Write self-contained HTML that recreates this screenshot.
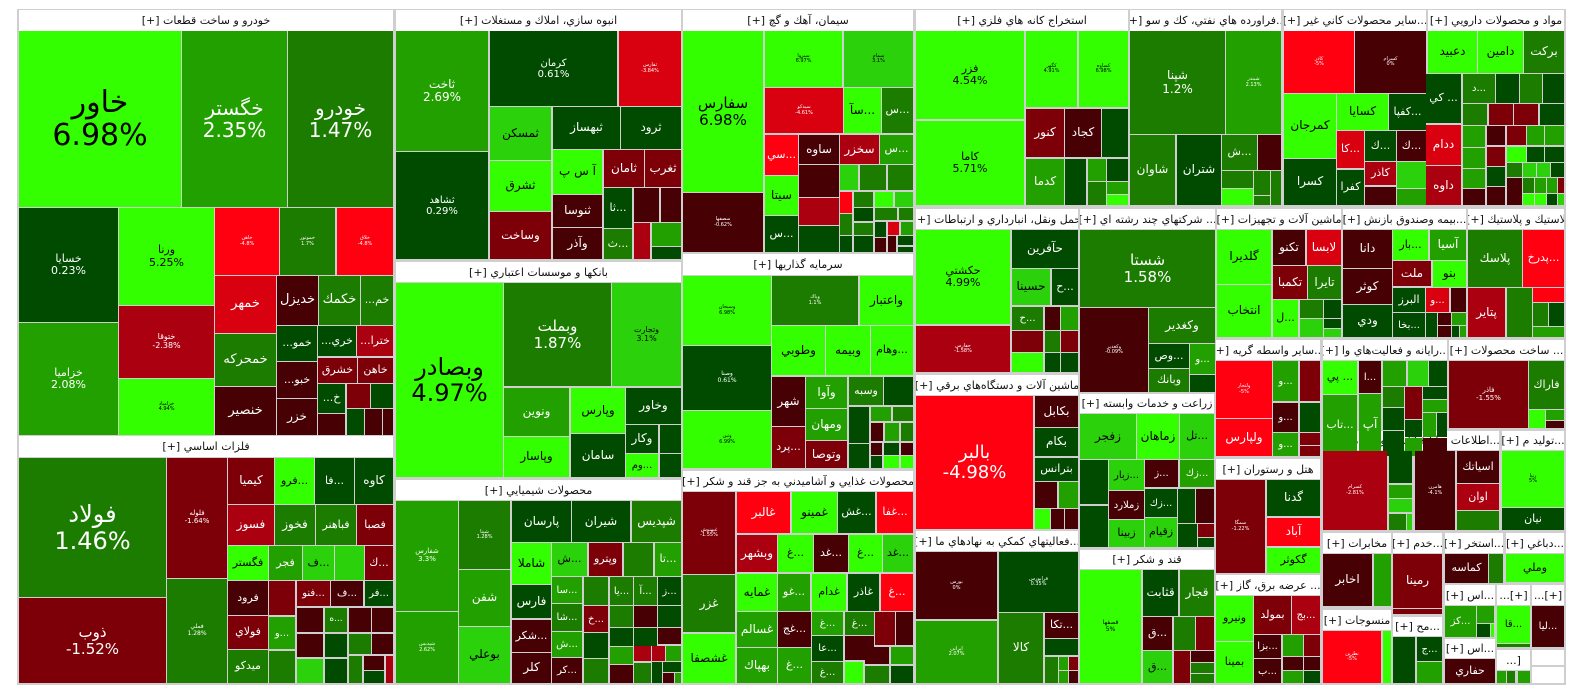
<!DOCTYPE html>
<html><head><meta charset="utf-8">
<style>
html,body{margin:0;padding:0;background:#fff;width:1584px;height:698px;overflow:hidden}
#m{position:absolute;left:17px;top:9px;width:1549px;height:676px;background:#cfcfcf}
.t{position:absolute;display:flex;flex-direction:column;align-items:center;justify-content:center;text-align:center;overflow:hidden;font-family:"DejaVu Sans","Liberation Sans",sans-serif;line-height:1.1;direction:rtl}
.t span{display:block;white-space:nowrap}
.t .p{direction:ltr;unicode-bidi:embed}
.h{position:absolute;background:#fff;display:flex;align-items:center;justify-content:center;font-family:"DejaVu Sans","Liberation Sans",sans-serif;font-size:11px;color:#111;direction:rtl;white-space:nowrap;overflow:hidden}
</style></head><body>
<div id="m"></div>
<div id="root"></div>
<script>
var C={A:'#33ff00',B:'#2bd10a',C:'#22a000',D:'#1b7c00',E:'#004b00',R1:'#ff0011',R2:'#d9000f',R3:'#ab0010',R4:'#7d0008',R5:'#470004'};
var H=[
[19,10,393,31,'خودرو و ساخت قطعات [+]'],
[19,436,393,457,'فلزات اساسي [+]'],
[396,10,681,31,'انبوه سازي، املاك و مستغلات [+]'],
[396,262,681,282,'بانكها و موسسات اعتباري [+]'],
[396,480,681,500,'محصولات شيميايي [+]'],
[683,10,913,31,'سيمان، آهك و گچ [+]'],
[683,254,913,275,'سرمايه گذاريها [+]'],
[683,471,913,491,'محصولات غذايي و آشاميدني به جز قند و شكر [+]'],
[916,10,1128,31,'استخراج كانه هاي فلزي [+]'],
[1130,10,1281,31,'...فراورده هاي نفتي، كك و سو [+]'],
[1284,10,1426,31,'...ساير محصولات كاني غير [+]'],
[1428,10,1564,31,'مواد و محصولات دارويي [+]'],
[916,209,1078,229,'حمل ونقل، انبارداري و ارتباطات [+]'],
[1080,209,1215,229,'... شركتهاي چند رشته اي [+]'],
[1217,209,1341,229,'ماشين آلات و تجهيزات [+]'],
[1343,209,1466,229,'...بيمه وصندوق بازنش [+]'],
[1468,209,1564,229,'لاستيك و پلاستيك [+]'],
[916,375,1078,395,'ماشين آلات و دستگاه‌هاي برقي [+]'],
[916,531,1078,551,'...فعاليتهاي كمكي به نهادهاي ما [+]'],
[1080,394,1214,413,'زراعت و خدمات وابسته [+]'],
[1080,550,1214,569,'قند و شكر [+]'],
[1216,340,1320,360,'...ساير واسطه گريه [+]'],
[1323,340,1447,360,'...رايانه و فعاليت‌هاي وا [+]'],
[1449,340,1564,360,'... ساخت محصولات [+]'],
[1216,459,1320,479,'هتل و رستوران [+]'],
[1216,575,1320,595,'... عرضه برق، گاز [+]'],
[1323,431,1412,450,'كاشي و سراميك [+]'],
[1415,431,1499,450,'...اطلاعات و ا [+]'],
[1502,431,1564,450,'...توليد م [+]'],
[1323,533,1391,553,'مخابرات [+]'],
[1323,610,1391,630,'منسوجات [+]'],
[1393,533,1442,553,'...خدم [+]'],
[1393,617,1442,636,'...مح [+]'],
[1445,533,1503,553,'...استخر [+]'],
[1506,533,1564,553,'...دباغي [+]'],
[1445,585,1495,605,'...اس [+]'],
[1445,639,1495,658,'...اس [+]'],
[1497,585,1530,605,'[+]...'],
[1532,585,1564,605,'[+]...'],
[1497,650,1530,670,'[...'],
[1532,650,1564,665,''],
[1532,667,1564,683,'']
];
var T=[
[19,31,181,207,'A','خاور\n6.98%',30],
[182,31,287,207,'C','خگستر\n2.35%',20],
[288,31,393,207,'D','خودرو\n1.47%',20],
[19,208,118,322,'E','خسايا\n0.23%',11],
[19,323,118,435,'C','خزاميا\n2.08%',11],
[119,208,214,305,'A','ورنا\n5.25%',11],
[119,306,214,378,'R3','ختوقا\n-2.38%',8],
[119,379,214,435,'A','خزامياد\n4.94%',5],
[215,208,279,275,'R1','خاهن\n-4.8%',5],
[280,208,335,275,'D','خموتور\n1.7%',5],
[337,208,393,275,'R1','خلاق\n-4.8%',5],
[215,276,276,333,'R2','خمهر',13],
[215,334,276,386,'D','خمحركه',13],
[215,387,276,435,'R5','خنصير',13],
[277,276,318,325,'R5','خديزل',13],
[319,276,360,325,'D','خكمك',13],
[361,276,393,325,'D','خم...',11],
[277,326,317,361,'E','خمو...',11],
[318,326,356,356,'E','خري...',11],
[357,326,393,356,'R3','خترا...',11],
[277,362,317,398,'R5','خبو...',11],
[318,358,357,383,'R4','خشرق',11],
[358,358,393,383,'R4','خاهن',11],
[277,399,317,435,'R5','خزر',12],
[318,384,345,413,'E','خ...',11],
[347,384,370,408,'R4','',0],[371,384,393,408,'E','',0],
[318,414,345,435,'R5','',0],[347,409,364,435,'E','',0],[365,409,382,435,'R5','',0],[383,409,393,435,'R5','',0],
[19,458,166,597,'D','فولاد\n1.46%',24],
[19,598,166,683,'R4','ذوب\n-1.52%',15],
[167,458,227,578,'R4','فلوله\n-1.64%',7],
[167,579,227,683,'D','فملي\n1.28%',6],
[228,458,274,504,'R4','كيميا',12],
[275,458,314,504,'A','...فرو',11],
[315,458,354,504,'E','...فا',11],
[355,458,393,504,'E','كاوه',12],
[228,505,274,545,'R3','فسوز',12],
[275,505,315,545,'D','فخوز',12],
[316,505,356,545,'D','فباهنر',11],
[357,505,393,545,'R4','فصبا',11],
[228,546,268,580,'A','فگستر',11],
[269,546,302,580,'C','فجر',11],
[303,546,334,580,'B','...ف',11],
[335,546,364,580,'B','',0],
[365,546,393,580,'R4','...ك',11],
[228,581,268,615,'R5','فرود',11],
[269,581,295,615,'R4','',0],
[297,581,330,606,'R4','...فنو',10],
[331,581,363,606,'R5','...ف',10],
[365,581,393,606,'E','...فر',10],
[228,616,268,649,'R4','فولاي',11],
[269,617,295,649,'C','...و',10],
[228,650,268,683,'D','ميدكو',11],
[269,651,295,683,'D','',0],
[297,608,323,632,'R5','',0],[325,608,347,632,'D','...ه',9],[349,608,371,632,'R5','',0],[372,608,393,632,'R5','',0],
[297,634,323,657,'R5','',0],[325,634,347,657,'E','',0],[349,634,371,654,'D','',0],[372,634,393,654,'R5','',0],
[297,659,323,683,'B','',0],[325,659,347,683,'E','',0],[349,656,362,683,'D','',0],[364,656,384,670,'R5','',0],[364,671,384,683,'E','',0],[386,656,393,683,'R3','',0],
[396,31,488,151,'C','ثاخت\n2.69%',12],
[396,152,488,259,'E','ثشاهد\n0.29%',10],
[490,31,617,106,'E','كرمان\n0.61%',10],
[619,31,681,106,'R2','ثفارس\n-3.84%',5],
[490,107,551,160,'B','ثمسكن',12],
[490,161,551,211,'A','ثشرق',12],
[490,212,551,259,'R4','وساخت',12],
[553,107,620,149,'E','ثبهساز',12],
[621,107,681,149,'E','ثرود',12],
[553,150,602,194,'A','آ س پ',12],
[604,150,644,187,'R4','ثامان',12],
[645,150,681,187,'R4','ثغرب',12],
[553,195,602,227,'R5','ثنوسا',12],
[553,228,602,259,'R5','وآذر',12],
[604,188,632,228,'E','...ثا',11],
[604,229,632,259,'D','...ث',11],
[634,188,659,222,'R5','',0],[661,188,681,222,'R5','',0],
[634,223,650,259,'R3','',0],[652,223,681,246,'C','',0],[652,247,681,259,'E','',0],
[396,283,503,477,'A','وبصادر\n4.97%',24],
[504,283,611,386,'D','وبملت\n1.87%',15],
[612,283,681,386,'B','وتجارت\n3.1%',8],
[504,388,569,436,'C','ونوين',12],
[571,388,625,433,'A','وپارس',12],
[626,388,681,424,'E','وخاور',12],
[504,437,569,477,'A','وپاسار',12],
[571,434,625,477,'E','سامان',12],
[626,425,658,453,'E','وكار',12],
[660,425,681,453,'E','',0],
[626,454,658,477,'A','...وم',10],
[660,454,681,477,'E','',0],
[396,501,458,611,'C','شفارس\n3.3%',7],
[396,612,458,683,'C','شپديس\n2.62%',5],
[459,501,510,569,'D','شپنا\n1.28%',5],
[459,570,510,626,'C','شفن',12],
[459,627,510,683,'B','بوعلي',12],
[512,501,571,542,'E','پارسان',12],
[572,501,630,542,'E','شيران',12],
[632,501,681,542,'D','شپديس',12],
[512,543,551,584,'A','شاملا',12],
[552,543,587,576,'B','...ش',11],
[589,543,622,576,'R4','وپترو',11],
[624,543,653,576,'D','',0],
[655,543,681,576,'C','...تا',11],
[512,585,551,618,'E','فارس',12],
[512,620,551,652,'R5','...شكر',11],
[512,653,551,683,'R5','كلر',12],
[552,577,582,603,'C','...سا',10],[552,604,582,631,'D','...شا',10],[552,632,582,657,'C','...ش',10],[552,658,582,683,'R5','...كر',10],
[584,577,608,605,'D','',0],[584,606,608,632,'R4','...خ',10],[584,633,608,658,'E','',0],[584,659,608,683,'D','',0],
[610,577,633,605,'D','...يا',10],[634,577,657,605,'D','...آ',10],[658,577,681,605,'E','...ز',10],
[610,606,633,627,'D','',0],[634,606,657,627,'R5','',0],[658,606,681,627,'E','',0],
[610,628,633,646,'E','',0],[634,628,657,646,'E','',0],[658,628,681,644,'R5','',0],
[610,647,633,664,'C','',0],[634,646,651,661,'R3','',0],[652,646,665,661,'R3','',0],[666,646,681,661,'C','',0],
[610,665,633,683,'R5','',0],[634,663,651,683,'D','',0],[652,662,662,683,'E','',0],[663,662,681,672,'E','',0],[663,673,674,683,'R5','',0],[675,673,681,683,'C','',0],
[683,31,763,192,'A','سفارس\n6.98%',15],
[683,193,763,252,'R5','سصفها\n-0.62%',5],
[765,31,842,87,'A','سبزوا\n6.97%',5],
[844,31,913,87,'B','سمام\n3.1%',5],
[765,88,843,133,'R2','سيدكو\n-4.61%',5],
[844,88,881,133,'A','...سآ',12],
[882,88,913,133,'D','...س',11],
[765,135,798,175,'R1','...سي',11],
[799,135,839,164,'R5','ساوه',12],
[840,135,879,164,'R3','سخزر',12],
[880,135,913,164,'C','...س',11],
[765,176,798,215,'A','سيتا',12],
[765,216,798,252,'E','...س',11],
[799,165,839,197,'R5','',0],
[799,198,839,225,'R3','',0],
[799,226,839,252,'E','',0],
[840,165,858,190,'B','',0],[860,165,886,190,'D','',0],[888,165,913,190,'D','',0],
[840,192,852,213,'R1','',0],[854,192,873,207,'D','',0],[875,192,893,207,'A','',0],[895,192,913,207,'B','',0],
[840,214,852,235,'D','',0],[854,208,873,221,'E','',0],[875,208,897,220,'D','',0],[899,208,913,220,'D','',0],
[854,223,873,235,'D','',0],[875,222,886,237,'E','',0],[888,222,899,235,'R2','',0],[901,222,913,235,'C','',0],
[840,236,852,252,'E','',0],[854,236,873,252,'E','',0],[875,238,886,252,'R5','',0],[888,236,896,252,'R5','',0],[898,236,913,245,'E','',0],[898,247,913,252,'E','',0],
[683,276,771,345,'A','وسبحان\n6.98%',5],
[683,346,771,410,'E','وصنا\n0.61%',6],
[683,411,771,468,'A','وتين\n6.99%',5],
[772,276,858,325,'D','وپاك\n1.1%',5],
[860,276,913,325,'A','واعتبار',12],
[772,326,825,375,'A','وطوبي',12],
[826,326,870,375,'A','وبيمه',12],
[871,326,913,375,'A','...وهام',11],
[772,377,805,426,'R5','شهر',12],
[772,427,805,468,'R4','...پرد',11],
[806,377,847,408,'C','وآوا',12],
[806,409,847,440,'C','ومهان',12],
[806,441,847,468,'R4','وتوصا',12],
[849,377,883,405,'D','وسبه',11],
[884,377,913,405,'E','',0],
[849,407,869,443,'E','',0],[871,407,891,421,'C','',0],[893,407,913,421,'D','',0],
[871,423,883,441,'R5','',0],[885,423,899,441,'C','',0],[901,423,913,441,'D','',0],
[849,444,869,468,'E','',0],[871,443,882,455,'R5','',0],[884,443,899,455,'E','',0],[901,443,913,455,'R5','',0],[871,456,882,468,'E','',0],[884,456,899,468,'A','',0],[901,456,913,468,'A','',0],
[683,492,735,574,'R4','غبهنوش\n-1.55%',5],
[683,575,735,632,'D','غزر',12],
[683,634,735,683,'A','غشصفا',12],
[737,492,790,533,'R1','غالبر',12],
[792,492,837,533,'A','غمينو',12],
[838,492,875,533,'E','...غش',11],
[877,492,913,533,'R1','...غفا',11],
[737,535,777,572,'R3','وبشهر',12],
[778,535,813,572,'A','...غ',11],
[814,535,848,572,'R5','...غد',11],
[849,535,882,572,'A','...غ',11],
[883,535,913,572,'B','...غد',11],
[737,574,777,611,'A','غمايه',12],
[778,574,810,611,'C','...غو',11],
[812,574,846,611,'A','غدام',11],
[848,574,879,611,'E','غاذر',11],
[881,574,913,611,'R1','...غ',11],
[737,612,777,647,'C','غسالم',12],
[778,612,811,647,'R5','...غج',11],
[812,612,843,635,'C','...غ',10],
[845,612,874,635,'D','...غ',10],
[875,612,895,645,'R4','',0],[896,612,913,645,'R5','',0],
[737,648,777,683,'C','بهپاك',12],
[778,648,811,683,'C','...غ',11],
[812,636,843,661,'E','...عا',10],
[812,662,843,683,'D','...غ',10],
[845,636,874,660,'R5','',0],
[845,662,863,683,'A','',0],[865,647,889,664,'R5','',0],[891,647,913,664,'C','',0],[865,666,889,683,'D','',0],[891,666,913,683,'E','',0],
[916,31,1024,119,'A','فزر\n4.54%',11],
[916,121,1024,205,'A','كاما\n5.71%',11],
[1026,31,1077,107,'A','كگهر\n4.91%',5],
[1079,31,1128,107,'A','كساوه\n6.98%',5],
[1026,109,1064,157,'R4','كنور',12],
[1065,109,1101,157,'R5','كجاد',12],
[1102,109,1128,157,'E','',0],
[1026,159,1064,205,'C','كدما',12],
[1065,159,1086,205,'E','',0],
[1088,159,1106,181,'C','',0],[1107,159,1128,181,'E','',0],[1088,182,1106,205,'D','',0],[1107,182,1128,194,'C','',0],[1107,195,1128,205,'A','',0],
[1130,31,1225,134,'D','شپنا\n1.2%',12],
[1226,31,1281,134,'C','شبندر\n2.13%',5],
[1130,135,1175,205,'D','شاوان',12],
[1177,135,1221,205,'E','شتران',12],
[1222,135,1257,170,'D','...ش',11],
[1258,135,1281,170,'R5','',0],
[1222,171,1253,188,'D','',0],[1222,189,1253,205,'A','',0],[1254,171,1270,195,'D','',0],[1271,171,1281,205,'D','',0],[1254,196,1270,205,'D','',0],
[1284,31,1354,93,'R1','كاذر\n-5%',5],
[1355,31,1426,93,'R5','كسرام\n0%',5],
[1284,94,1336,158,'A','كمرجان',12],
[1284,159,1336,205,'E','كسرا',12],
[1337,94,1388,130,'A','كسايا',12],
[1389,94,1426,130,'E','...كفپا',11],
[1337,131,1364,168,'R2','...كا',11],
[1365,131,1396,161,'E','...ك',11],
[1397,131,1426,161,'R5','...ك',11],
[1337,170,1364,205,'E','كفرا',11],
[1365,162,1396,185,'R3','كاذر',11],
[1397,162,1426,188,'B','',0],[1365,187,1396,205,'R5','',0],[1397,189,1426,205,'C','',0],
[1428,31,1477,73,'A','دعبيد',12],
[1478,31,1523,73,'A','دامين',12],
[1524,31,1564,73,'D','بركت',12],
[1426,74,1461,123,'E','... كي',11],
[1426,125,1461,165,'R2','ددام',12],
[1426,166,1461,205,'R3','داوه',12],
[1463,74,1495,103,'D','...د',10],[1496,74,1519,103,'E','',0],[1520,74,1542,103,'D','',0],[1543,74,1564,103,'E','',0],
[1463,104,1487,125,'D','',0],[1489,104,1513,125,'R4','',0],[1514,104,1538,125,'R4','',0],[1540,104,1564,125,'E','',0],
[1463,126,1485,147,'C','',0],[1487,126,1505,145,'R5','',0],[1507,126,1526,145,'R4','',0],[1527,126,1544,145,'C','',0],[1545,126,1564,145,'C','',0],
[1463,148,1485,168,'C','',0],[1487,147,1505,166,'R4','',0],[1507,147,1526,162,'A','',0],[1527,147,1544,162,'E','',0],[1545,147,1564,162,'E','',0],
[1463,169,1485,188,'C','',0],[1487,167,1505,186,'E','',0],[1507,163,1522,177,'D','',0],[1523,163,1536,177,'B','',0],[1537,163,1550,177,'B','',0],[1551,163,1564,177,'E','',0],
[1463,189,1485,205,'R5','',0],[1487,187,1505,205,'R5','',0],[1507,178,1522,205,'R5','',0],[1523,178,1534,193,'D','',0],[1535,178,1546,193,'C','',0],[1547,178,1557,193,'C','',0],[1558,178,1564,193,'R4','',0],
[1523,194,1534,205,'A','',0],[1535,194,1546,205,'A','',0],[1547,194,1557,205,'E','',0],[1558,194,1564,205,'B','',0],
[916,230,1010,324,'A','حكشتي\n4.99%',11],
[916,326,1010,372,'R3','حفارس\n-1.58%',5],
[1012,230,1078,268,'E','حآفرين',12],
[1012,269,1050,305,'B','حسينا',12],
[1052,269,1078,305,'E','...ح',11],
[1012,307,1043,330,'D','...ح',10],
[1045,307,1060,330,'R5','',0],[1061,307,1078,330,'C','',0],
[1012,331,1043,352,'R4','',0],[1012,353,1043,372,'A','',0],
[1045,331,1060,352,'D','',0],[1061,331,1078,352,'R4','',0],[1045,353,1060,372,'E','',0],[1061,353,1078,372,'E','',0],
[1080,230,1215,307,'D','شستا\n1.58%',15],
[1080,308,1148,392,'R5','وكغدير\n-0.09%',5],
[1149,308,1215,343,'D','وكغدير',12],
[1149,344,1189,368,'E','...وص',11],
[1190,344,1215,374,'C','...و',10],
[1149,369,1189,392,'D','وبانك',11],
[1190,375,1215,392,'E','',0],
[1217,230,1271,284,'A','گلديرا',12],
[1217,285,1271,337,'A','انتخاب',12],
[1273,230,1305,265,'R5','تكنو',12],
[1307,230,1341,265,'R2','لابسا',12],
[1273,266,1307,299,'R4','تكمبا',12],
[1308,266,1341,299,'D','تايرا',12],
[1273,300,1298,337,'A','...ل',11],
[1300,300,1323,318,'D','',0],[1324,300,1341,318,'E','',0],[1300,319,1323,337,'B','',0],[1324,319,1341,328,'E','',0],[1324,329,1341,337,'B','',0],
[1343,230,1392,268,'R5','دانا',12],
[1343,269,1392,304,'R5','كوثر',12],
[1343,305,1392,337,'E','ودي',12],
[1393,230,1428,260,'A','...بار',11],
[1430,230,1466,260,'C','آسيا',12],
[1393,261,1431,286,'R4','ملت',12],
[1433,261,1466,287,'A','بنو',12],
[1393,288,1425,312,'E','البرز',11],
[1426,288,1449,312,'R2','...و',10],
[1451,288,1466,312,'R5','',0],
[1393,313,1425,337,'E','...بخا',10],
[1426,313,1437,337,'E','',0],[1438,313,1451,325,'R5','',0],[1452,313,1466,325,'C','',0],[1438,326,1451,337,'R5','',0],[1452,326,1459,337,'E','',0],[1460,326,1466,337,'C','',0],
[1468,230,1522,287,'D','پلاسك',12],
[1523,230,1564,287,'R1','...پدرخ',11],
[1468,288,1505,337,'R3','پتاير',12],
[1507,288,1532,337,'D','',0],[1533,288,1564,302,'R1','',0],[1533,303,1548,326,'D','',0],[1549,303,1564,326,'E','',0],[1533,327,1564,337,'C','',0],
[916,396,1033,529,'R1','بالبر\n-4.98%',18],
[1035,396,1078,427,'R5','بكابل',12],
[1035,428,1078,456,'E','بكام',12],
[1035,458,1078,481,'E','بترانس',11],
[1035,482,1057,508,'R5','',0],[1059,482,1078,508,'C','',0],
[1035,509,1050,529,'A','',0],[1051,509,1064,529,'R5','',0],[1065,509,1078,529,'R5','',0],
[916,552,997,619,'R5','بورس\n0%',5],
[916,621,997,683,'C','ايرانی\n2.07%',5],
[999,552,1078,612,'E','فرابورس\n0.35%',5],
[999,613,1043,683,'D','كالا',12],
[1045,613,1078,638,'R5','...تكا',11],
[1045,639,1078,655,'E','',0],
[1045,657,1058,683,'D','',0],[1059,657,1068,670,'C','',0],[1069,657,1078,670,'R4','',0],[1059,671,1068,683,'C','',0],[1069,671,1078,683,'R5','',0],
[1080,414,1136,459,'B','زفجر',12],
[1137,414,1179,459,'A','زماهان',12],
[1180,414,1214,459,'B','...تل',11],
[1080,460,1108,504,'E','',0],[1080,506,1108,547,'E','',0],
[1109,460,1144,490,'B','...زبار',10],
[1145,460,1178,487,'R5','...ز',10],
[1180,460,1214,487,'C','...زك',10],
[1109,491,1144,519,'R5','زملارد',10],
[1145,489,1177,517,'E','...زك',10],
[1178,489,1195,523,'E','',0],[1196,489,1214,523,'R5','',0],
[1109,520,1144,547,'B','زبينا',11],
[1145,518,1177,547,'B','زقيام',11],
[1178,524,1197,547,'E','',0],[1198,524,1214,537,'R4','',0],[1198,538,1214,547,'E','',0],
[1080,570,1141,683,'A','قصفها\n5%',6],
[1143,570,1178,616,'E','قثابت',12],
[1180,570,1214,616,'D','قجار',12],
[1143,617,1172,650,'R5','...ق',11],
[1174,617,1195,650,'D','',0],[1196,617,1214,650,'R4','',0],
[1143,651,1172,683,'B','...ق',11],
[1174,651,1190,683,'R4','',0],[1191,651,1214,662,'R5','',0],[1191,663,1214,673,'D','',0],[1191,674,1214,683,'D','',0],
[1216,361,1272,418,'R1','ولتجار\n-5%',5],
[1216,419,1272,456,'R1','ولپارس',12],
[1273,361,1298,401,'C','...و',10],[1300,361,1320,401,'R4','',0],
[1273,403,1298,432,'R5','...و',10],[1300,403,1320,432,'E','',0],
[1273,433,1298,456,'C','...و',10],[1300,433,1320,445,'R4','',0],[1300,446,1320,456,'R4','',0],
[1323,361,1357,394,'A','... پي',11],
[1323,395,1357,456,'C','...تاب',11],
[1359,361,1381,393,'R5','...ا',10],
[1359,394,1381,456,'C','آپ',12],
[1383,361,1406,386,'C','',0],[1408,361,1428,386,'B','',0],[1429,361,1447,386,'E','',0],
[1383,387,1404,407,'D','',0],[1405,387,1422,419,'R4','',0],[1423,387,1447,399,'E','',0],[1423,400,1447,412,'C','',0],
[1383,408,1404,430,'E','',0],[1405,420,1422,437,'E','',0],[1423,413,1436,437,'C','',0],[1437,413,1447,437,'E','',0],
[1383,431,1404,456,'E','',0],[1405,438,1422,456,'C','',0],[1423,438,1447,456,'R5','',0],
[1449,361,1528,428,'R4','فاذر\n-1.55%',7],
[1529,361,1564,409,'D','فاراك',11],
[1529,410,1545,428,'A','',0],[1546,410,1564,420,'C','',0],[1546,421,1564,428,'R5','',0],
[1216,480,1265,573,'R4','سمگا\n-1.22%',5],
[1267,480,1320,516,'E','گدنا',12],
[1267,518,1320,546,'R1','آباد',12],
[1267,548,1320,573,'A','گكوثر',11],
[1216,596,1253,641,'A','ونيرو',11],
[1216,642,1253,683,'A','بمينا',11],
[1254,596,1291,634,'R4','بمولد',11],
[1292,596,1320,634,'R3','...بج',10],
[1254,635,1281,658,'R5','...بزا',10],
[1254,659,1281,683,'R5','...ب',10],
[1283,635,1303,656,'C','',0],[1304,635,1320,656,'R4','',0],[1283,657,1303,670,'R5','',0],[1304,657,1320,670,'R5','',0],[1283,671,1303,683,'C','',0],[1304,671,1320,683,'E','',0],
[1323,451,1387,530,'R3','كسرام\n-2.81%',5],
[1389,451,1412,483,'E','',0],[1389,485,1412,498,'C','',0],[1389,499,1412,512,'B','',0],[1389,514,1406,530,'D','',0],[1407,514,1412,530,'B','',0],
[1415,451,1455,530,'R5','هامرن\n-4.1%',5],
[1457,451,1499,483,'R5','اسياتك',11],
[1457,484,1499,510,'R3','اوان',11],
[1457,511,1499,530,'D','',0],
[1502,451,1564,507,'A','رنيا\n5%',5],
[1502,508,1564,530,'E','نيان',11],
[1323,554,1372,606,'R5','اخابر',12],
[1374,554,1391,606,'C','',0],
[1323,631,1381,683,'R1','نطرين\n-5%',5],
[1383,631,1391,683,'A','',0],
[1393,554,1442,608,'R4','رمينا',12],
[1393,609,1442,614,'R4','',0],
[1393,637,1415,683,'E','',0],
[1417,637,1442,661,'E','...ج',10],
[1417,662,1442,683,'C','',0],
[1445,554,1488,583,'R5','كماسه',11],
[1489,554,1503,583,'D','',0],
[1445,606,1476,637,'C','...كز',10],
[1477,606,1494,623,'C','',0],[1477,624,1490,637,'E','',0],[1491,624,1494,637,'A','',0],
[1445,659,1495,683,'R5','حفاري',11],
[1506,554,1564,582,'A','وملي',11],
[1497,606,1530,643,'A','...قا',10],
[1497,644,1530,647,'D','',0],
[1532,606,1564,647,'R5','...ليا',10],
[1497,671,1506,683,'C','',0],[1507,671,1515,683,'D','',0],[1518,671,1530,683,'C','',0]
];
var r=document.getElementById('root'),s='';
H.forEach(function(h){s+='<div class="h" style="left:'+h[0]+'px;top:'+h[1]+'px;width:'+(h[2]-h[0])+'px;height:'+(h[3]-h[1])+'px">'+h[4]+'</div>';});
T.forEach(function(t){var c=t[4],col=(c=='A'||c=='B')?'#000':'#fff';
var p=t[5]?t[5].split('\n'):[],inner='';
if(p.length){inner='<span>'+p[0]+'</span>';if(p[1])inner+='<span class="p">'+p[1]+'</span>';}
s+='<div class="t" style="left:'+t[0]+'px;top:'+t[1]+'px;width:'+(t[2]-t[0])+'px;height:'+(t[3]-t[1])+'px;background:'+C[c]+';color:'+col+';font-size:'+(t[6]||10)+'px">'+inner+'</div>';});
r.innerHTML=s;
</script>
</body></html>
